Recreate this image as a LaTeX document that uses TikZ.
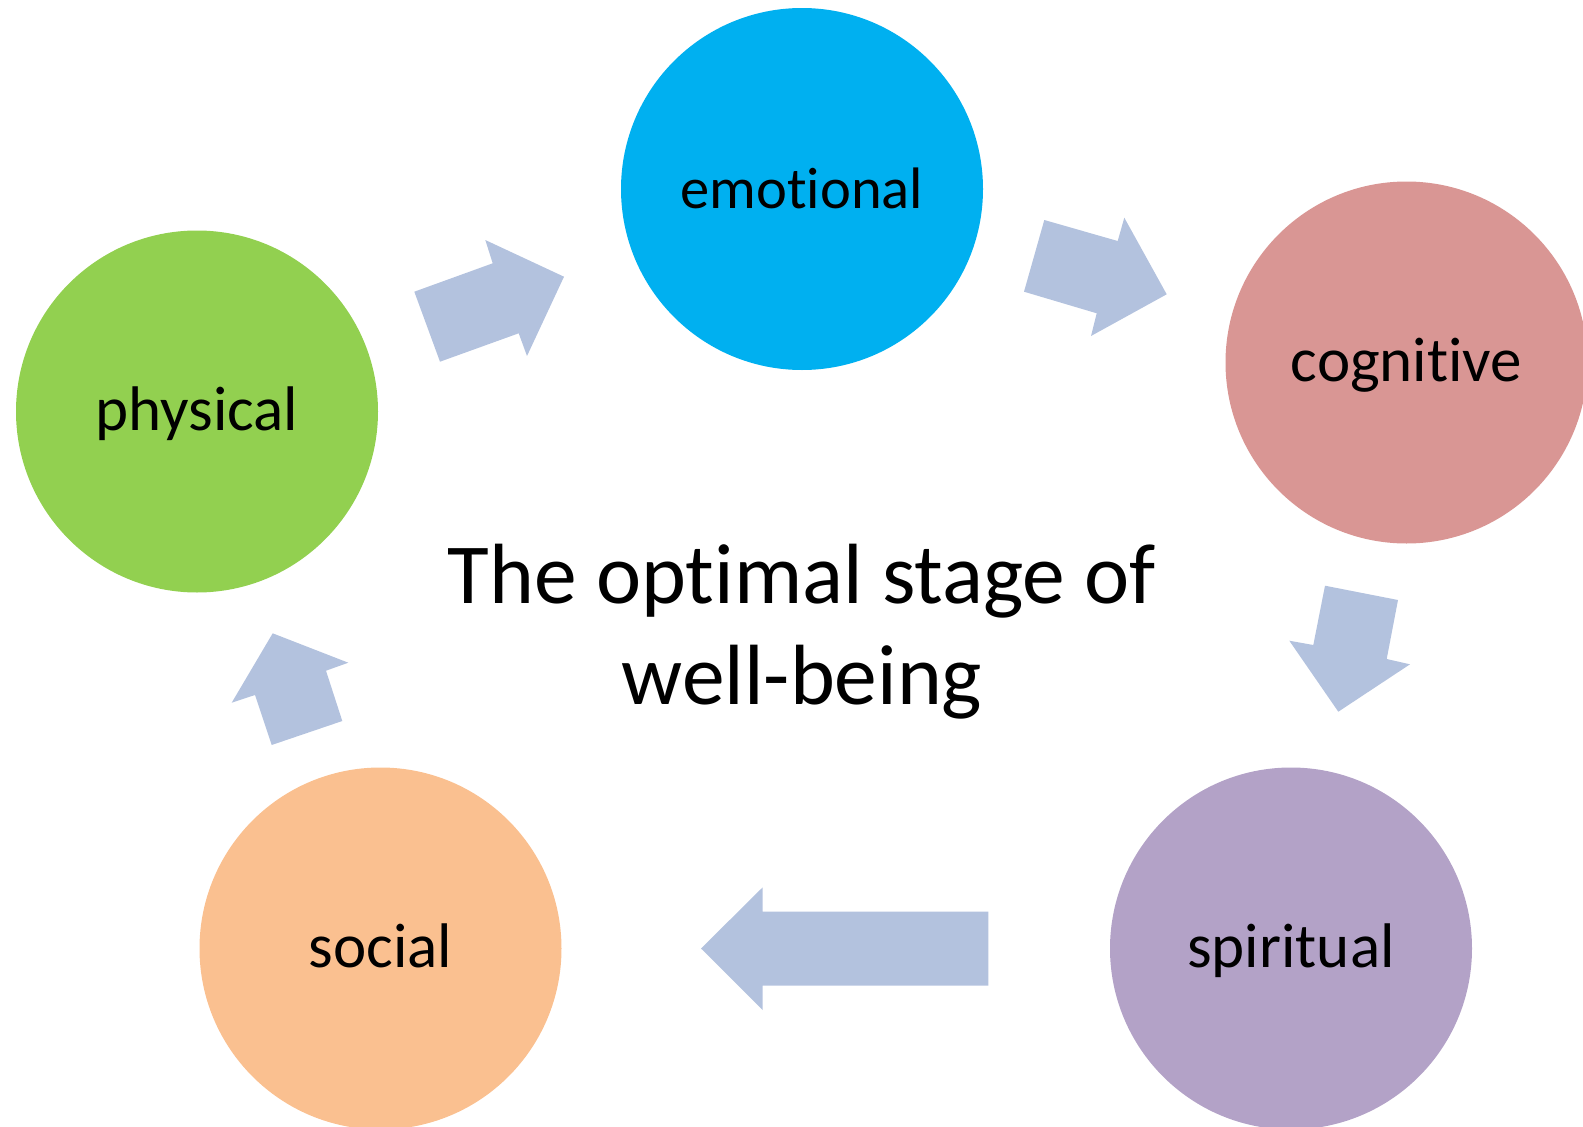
\documentclass[tikz,border=0pt]{standalone}
\usepackage{fontspec}
\setmainfont{Carlito}[Ligatures=NoCommon]
\definecolor{emotionalblue}{HTML}{00B0F0}
\definecolor{cognitivered}{HTML}{D99694}
\definecolor{physicalgreen}{HTML}{92D050}
\definecolor{socialorange}{HTML}{FAC090}
\definecolor{spiritualpurple}{HTML}{B3A2C7}
\definecolor{arrowblue}{HTML}{B3C2DE}
\begin{document}
\begin{tikzpicture}[x=1pt, y=-1pt,
  stage/.style={circle, draw=none, minimum size=362pt, inner sep=0pt,
    font=\fontsize{63}{70}\selectfont, text height=38pt, text depth=0pt},
  flow/.style={fill=arrowblue, draw=none},
  headline/.style={font=\fontsize{85.5}{101}\selectfont, anchor=base, inner sep=0pt}]
\useasboundingbox (0,0) rectangle (1583,1127);
\clip (0,0) rectangle (1583,1127);

% the five dimensions
\node[stage, fill=emotionalblue, font=\fontsize{58.5}{66}\selectfont]
  (emotional) at (802,189) {emotional};
\node[stage, fill=cognitivered]    (cognitive) at (1406.5,362.5) {cognitive};
\node[stage, fill=spiritualpurple] (spiritual) at (1291,948.5) {spiritual};
\node[stage, fill=socialorange]    (social)    at (380.5,948.5) {social};
\node[stage, fill=physicalgreen]   (physical)  at (197,411.5)  {physical};

% centre caption
\node[headline] (title1) at (802,603) {The optimal stage of};
\node[headline] (title2) at (802,704) {well-being};

% block arrows of the cycle
\fill[flow] (414.3,291.7) -- (492.7,263.3) -- (485.3,240) -- (564,276.7)
  -- (527,356) -- (518.7,333.3) -- (440,361.7) -- cycle;
\fill[flow] (1044.3,220) -- (1117.7,241) -- (1124.3,217.7) -- (1166.7,294.3)
  -- (1091,336) -- (1096.7,313.3) -- (1024,291.7) -- cycle;
\fill[flow] (1325,585.7) -- (1398,600) -- (1386.7,659) -- (1410,664.3)
  -- (1338.3,711.7) -- (1289.3,640.7) -- (1313.3,645) -- cycle;
\fill[flow] (988.3,911.7) -- (762.7,911.7) -- (762.7,887.3) -- (701,948.5)
  -- (762.7,1010) -- (762.7,985.7) -- (988.3,985.7) -- cycle;
\fill[flow] (342.3,721) -- (326,670.7) -- (348.3,662.7) -- (272.7,633.3)
  -- (231.7,702.7) -- (255,695) -- (271.7,745) -- cycle;
\end{tikzpicture}
\end{document}
